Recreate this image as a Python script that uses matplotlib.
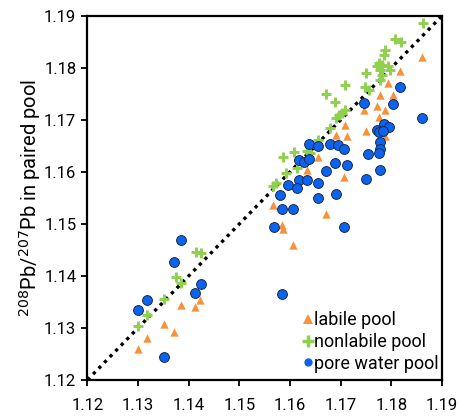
import matplotlib
matplotlib.use("Agg")
import matplotlib.pyplot as plt
from matplotlib.lines import Line2D

plt.rcParams['font.family'] = ['Roboto', 'DejaVu Sans']

# labile pool (orange triangles)
labile_x = [1.1422, 1.1412, 1.1384, 1.1351, 1.1371, 1.1318, 1.1300,
            1.1861, 1.1817, 1.1794, 1.1778, 1.1804, 1.1771, 1.1788, 1.1776,
            1.1746, 1.1709, 1.1713, 1.1691, 1.1750, 1.1788, 1.1655, 1.1633,
            1.1707, 1.1567, 1.1671, 1.1584, 1.1586, 1.1605]
labile_y = [1.1354, 1.1340, 1.1344, 1.1308, 1.1293, 1.1281, 1.1259,
            1.1820, 1.1793, 1.1771, 1.1748, 1.1748, 1.1726, 1.1719, 1.1705,
            1.1719, 1.1690, 1.1669, 1.1671, 1.1679, 1.1668, 1.1629, 1.1604,
            1.1590, 1.1537, 1.1519, 1.1498, 1.1490, 1.1460]

# nonlabile pool (green crosses)
nonlabile_x = [1.1414, 1.1424, 1.1375, 1.1384, 1.1351, 1.1318, 1.1300,
               1.1862, 1.1808, 1.1819, 1.1788, 1.1786,
               1.1775, 1.1781, 1.1771, 1.1778, 1.1794, 1.1781, 1.1798,
               1.1750, 1.1778, 1.1748, 1.1755, 1.1709, 1.1671, 1.1689,
               1.1709, 1.1702, 1.1696, 1.1691, 1.1678, 1.1656, 1.1640,
               1.1634, 1.1607, 1.1586, 1.1613, 1.1593, 1.1572, 1.1567]
nonlabile_y = [1.1445, 1.1444, 1.1397, 1.1387, 1.1355, 1.1325, 1.1304,
               1.1887, 1.1855, 1.1849, 1.1835, 1.1825,
               1.1809, 1.1806, 1.1803, 1.1796, 1.1803, 1.1787, 1.1796,
               1.1790, 1.1777, 1.1764, 1.1758, 1.1767, 1.1750, 1.1735,
               1.1719, 1.1713, 1.1710, 1.1703, 1.1684, 1.1662, 1.1637,
               1.1640, 1.1639, 1.1629, 1.1607, 1.1597, 1.1578, 1.1572]

# pore water pool (blue circles)
pore_x = [1.1384, 1.1371, 1.1424, 1.1413, 1.1318, 1.1300, 1.1352,
          1.1861, 1.1817, 1.1804, 1.1747, 1.1786, 1.1796, 1.1771, 1.1776,
          1.1784, 1.1778, 1.1778, 1.1776, 1.1754, 1.1778, 1.1750,
          1.1638, 1.1656, 1.1678, 1.1695, 1.1707, 1.1618, 1.1628, 1.1638,
          1.1689, 1.1712, 1.1671, 1.1618, 1.1633, 1.1596, 1.1613, 1.1655,
          1.1580, 1.1655, 1.1691, 1.1584, 1.1605, 1.1568, 1.1707, 1.1584]
pore_y = [1.1469, 1.1426, 1.1384, 1.1368, 1.1353, 1.1335, 1.1244,
          1.1703, 1.1763, 1.1731, 1.1732, 1.1692, 1.1687, 1.1681, 1.1676,
          1.1679, 1.1658, 1.1644, 1.1637, 1.1634, 1.1604, 1.1587,
          1.1653, 1.1649, 1.1653, 1.1651, 1.1644, 1.1623, 1.1619, 1.1624,
          1.1617, 1.1613, 1.1602, 1.1585, 1.1585, 1.1575, 1.1569, 1.1578,
          1.1556, 1.1550, 1.1557, 1.1529, 1.1529, 1.1494, 1.1494, 1.1366]

ticks = [1.12, 1.13, 1.14, 1.15, 1.16, 1.17, 1.18, 1.19]
tick_labels = ['1.12', '1.13', '1.14', '1.15', '1.16', '1.17', '1.18', '1.19']
series_names = ['labile pool', 'nonlabile pool', 'pore water pool']

ORANGE = '#F7923A'
GREEN = '#8FD04E'
BLUE = '#0A64F0'

fig = plt.figure(figsize=(4.58, 4.17), dpi=100)
ax = fig.add_axes([0.191, 0.089, 0.774, 0.873])

ax.plot([ticks[0], ticks[-1]], [ticks[0], ticks[-1]], color='black',
        linewidth=2.4, linestyle=(0, (1, 1.4)), dash_capstyle='butt', zorder=1)

ax.scatter(labile_x, labile_y, marker='^', s=36, color=ORANGE,
           linewidths=0, zorder=2)
ax.scatter(nonlabile_x, nonlabile_y, marker='+', s=60, color=GREEN,
           linewidths=2.1, zorder=3)
ax.scatter(pore_x, pore_y, marker='o', s=50, facecolor=BLUE,
           edgecolor='#1B2A4A', linewidths=0.7, zorder=4)

ax.set_xlim(ticks[0], ticks[-1])
ax.set_ylim(ticks[0], ticks[-1])
ax.set_xticks(ticks)
ax.set_xticklabels(tick_labels)
ax.set_yticks(ticks)
ax.set_yticklabels(tick_labels)
ax.tick_params(axis='both', direction='out', length=4, width=1.3,
               labelsize=12, colors='black', pad=4)
ax.tick_params(axis='x', pad=9)
for sp in ax.spines.values():
    sp.set_linewidth(1.6)

ax.set_ylabel(r'$^{208}$Pb/$^{207}$Pb in paired pool', fontsize=14.5, labelpad=1)

handles = [
    Line2D([], [], marker='^', linestyle='none', color=ORANGE, markersize=7, markeredgewidth=0),
    Line2D([], [], marker='+', linestyle='none', color=GREEN, markersize=9, markeredgewidth=2.5),
    Line2D([], [], marker='o', linestyle='none', color=BLUE, markersize=6, markeredgewidth=0),
]
ax.legend(handles, series_names, loc='lower right', bbox_to_anchor=(1.02, -0.01),
          frameon=False, fontsize=13, handlelength=0.5, handletextpad=0.05,
          labelspacing=0.2, borderaxespad=0.2)

fig.savefig('out.png', dpi=100)
